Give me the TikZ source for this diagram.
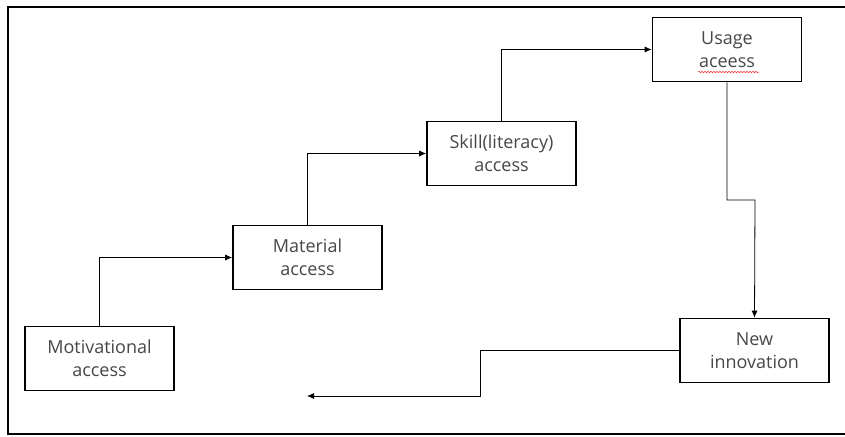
\documentclass[tikz,border=0pt]{standalone}
\usepackage{fontspec}
\setmainfont{Open Sans}
\usetikzlibrary{arrows.meta,decorations.pathmorphing}
\begin{document}
\begin{tikzpicture}[x=1pt,y=-1pt,
  box/.style={draw=black,line width=1.6pt,fill=white,minimum width=149pt,minimum height=64pt,
    align=center,inner sep=0pt,text=black!72,font=\fontsize{18}{23}\selectfont},
  conn/.style={draw=black,line width=0.8pt},
  arr/.style={conn,-{Latex[length=7pt,width=6pt]}}]
\useasboundingbox (0,0) rectangle (845,436);
\fill[white] (0,0) rectangle (845,436);
\draw[line width=1.6pt] (847,7) -- (8,7) -- (8,434) -- (847,434);
\node[box] (mot) at (99.5,358.5) {Motivational\\access};
\node[box] (mat) at (307.5,257.5) {Material\\access};
\node[box] (skill) at (501.5,153.5) {Skill(literacy)\\access};
\node[box] (usage) at (727,49.5) {Usage\\aceess};
\node[box] (new) at (754.5,350.5) {New\\innovation};
\coordinate (jog) at (755,200);
\coordinate (bend) at (480,396);
\coordinate (end) at (307,396);
\draw[arr] (mot.north) |- (mat.west);
\draw[arr] (mat.north) |- (skill.west);
\draw[arr] (skill.north) |- (usage.west);
\draw[arr] (usage.south) |- (jog) -- (new.north);
\draw[arr] (new.west) -| (bend) -- (end);
\coordinate (sq1) at (698,72);
\coordinate (sq2) at (759,72);
\draw[red!80,line width=0.5pt,decorate,decoration={snake,amplitude=0.8pt,segment length=3pt}] (sq1) -- (sq2);
\end{tikzpicture}
\end{document}
